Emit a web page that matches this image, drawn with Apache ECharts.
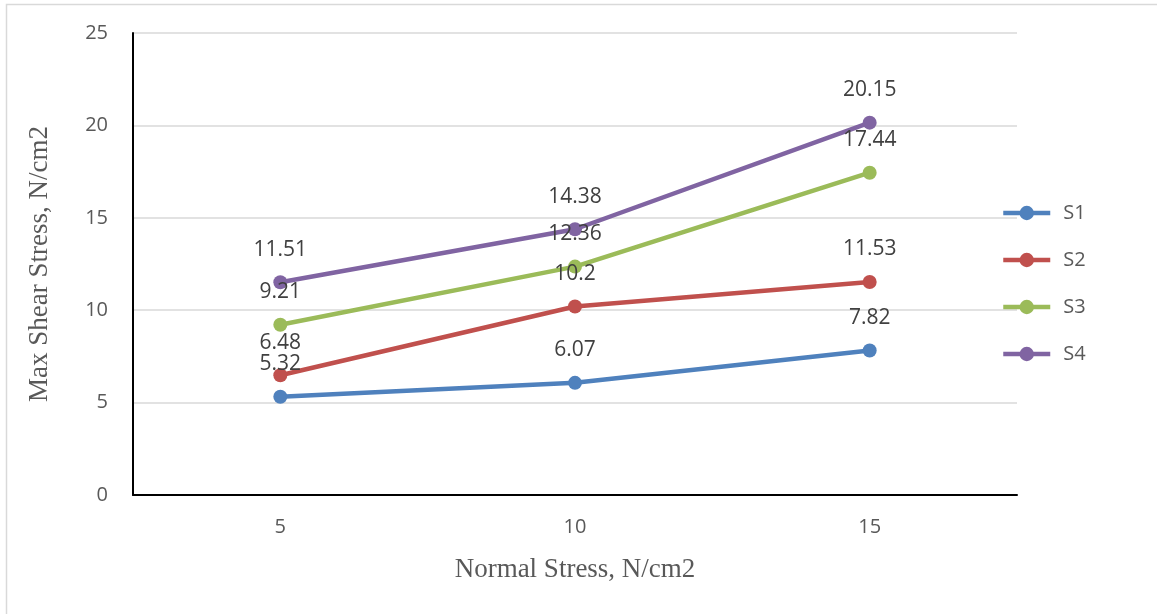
<!DOCTYPE html>
<html><head><meta charset="utf-8">
<script src="https://cdn.jsdelivr.net/npm/echarts@6/dist/echarts.min.js"></script>
<style>html,body{margin:0;padding:0;background:#fff}#c{width:1157px;height:614px}</style>
</head><body><div id="c"></div>
<script>
const categories = ['5', '10', '15'];
const seriesNames = ['S1', 'S2', 'S3', 'S4'];
const s1 = [5.32, 6.07, 7.82];
const s2 = [6.48, 10.2, 11.53];
const s3 = [9.21, 12.36, 17.44];
const s4 = [11.51, 14.38, 20.15];
const colors = ['#4f81bd', '#c0504d', '#9bbb59', '#8064a2'];
const allData = [s1, s2, s3, s4];

const chart = echarts.init(document.getElementById('c'));
const font = '"Open Sans", sans-serif';
chart.setOption({
  animation: false,
  color: colors,
  graphic: [{type: 'rect', shape: {x: 6.5, y: 4.5, width: 1160, height: 620}, style: {fill: 'none', stroke: '#d9d9d9', lineWidth: 1.5}, silent: true}],
  grid: {left: 133, right: 140, top: 33, bottom: 119},
  legend: {
    orient: 'vertical', left: 996, top: 198, itemGap: 27, itemWidth: 47, itemHeight: 18,
    lineStyle: {width: 4.5},
    textStyle: {fontSize: 20, color: '#595959', fontFamily: font, padding: [0, 0, 0, 8]},
    data: seriesNames
  },
  xAxis: {
    type: 'category', data: categories, boundaryGap: true,
    name: 'Normal Stress, N/cm2', nameLocation: 'middle', nameGap: 61,
    nameTextStyle: {fontFamily: '"Liberation Serif", serif', fontSize: 27, color: '#595959'},
    axisLine: {lineStyle: {color: '#000', width: 2}},
    axisTick: {show: false},
    axisLabel: {fontSize: 20, color: '#595959', fontFamily: font, margin: 22}
  },
  yAxis: {
    type: 'value', min: 0, max: 25, interval: 5,
    name: 'Max Shear Stress, N/cm2', nameLocation: 'middle', nameGap: 80,
    nameTextStyle: {fontFamily: '"Liberation Serif", serif', fontSize: 27, color: '#595959'},
    axisLine: {show: true, lineStyle: {color: '#000', width: 2}},
    axisTick: {show: false},
    splitLine: {lineStyle: {color: '#d9d9d9', width: 1.5}},
    axisLabel: {fontSize: 20, color: '#595959', fontFamily: font, margin: 25}
  },
  series: seriesNames.map((n, i) => ({
    name: n, type: 'line', data: allData[i],
    symbol: 'circle', symbolSize: 14,
    lineStyle: {width: 4.5, color: colors[i]},
    itemStyle: {color: colors[i]},
    label: {show: true, position: 'top', distance: 15, fontSize: 21, color: '#404040', fontFamily: font}
  }))
});
</script></body></html>
